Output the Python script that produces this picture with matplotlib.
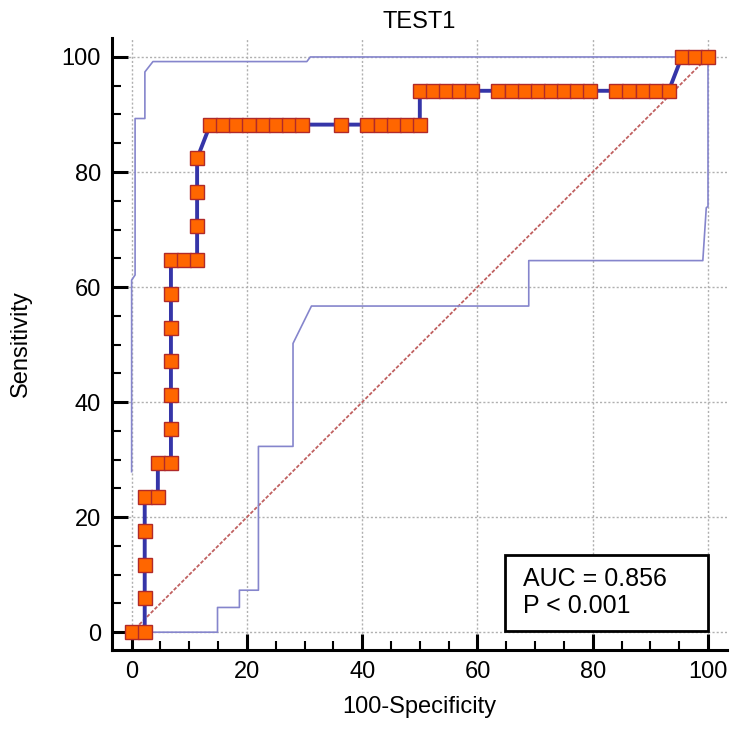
import matplotlib
matplotlib.use("Agg")
import matplotlib.pyplot as plt
from matplotlib.patches import Rectangle
from matplotlib.ticker import MultipleLocator

plt.rcParams['font.family'] = ['Liberation Sans', 'DejaVu Sans']

# ROC operating points (100-Specificity, Sensitivity)
fpr = [0.0, 2.27, 2.27, 2.27, 2.27, 2.27, 4.55, 4.55, 6.82, 6.82, 6.82, 6.82, 6.82, 6.82, 6.82,
       9.09, 11.36, 11.36, 11.36, 11.36,
       13.64, 15.91, 18.18, 20.45, 22.73, 25.0, 27.27, 29.55, 36.36,
       40.91, 43.18, 45.45, 47.73, 50.0,
       50.0, 52.27, 54.55, 56.82, 59.09,
       63.64, 65.91, 68.18, 70.45, 72.73, 75.0, 77.27, 79.55,
       84.09, 86.36, 88.64, 90.91, 93.18,
       95.45, 97.73, 100.0]
sens = [0.0, 0.0, 5.88, 11.76, 17.65, 23.53, 23.53, 29.41, 29.41, 35.29, 41.18, 47.06, 52.94, 58.82, 64.71,
        64.71, 64.71, 70.59, 76.47, 82.35,
        88.24, 88.24, 88.24, 88.24, 88.24, 88.24, 88.24, 88.24, 88.24,
        88.24, 88.24, 88.24, 88.24, 88.24,
        94.12, 94.12, 94.12, 94.12, 94.12,
        94.12, 94.12, 94.12, 94.12, 94.12, 94.12, 94.12, 94.12,
        94.12, 94.12, 94.12, 94.12, 94.12,
        100.0, 100.0, 100.0]

# 95% confidence bounds
upper_x = [0.0, 0.0, 0.6, 0.6, 2.3, 2.3, 3.7, 30.4, 31.0, 100.0]
upper_y = [27.9, 61.2, 62.1, 89.3, 89.3, 97.4, 99.2, 99.2, 100.0, 100.0]
lower_x = [0.0, 14.9, 14.9, 18.7, 18.7, 22.0, 22.0, 28.0, 28.0, 31.2, 68.9, 68.9, 99.1, 99.7, 100.0, 100.0]
lower_y = [0.0, 0.0, 4.3, 4.3, 7.3, 7.3, 32.3, 32.3, 50.2, 56.7, 56.7, 64.6, 64.6, 73.8, 74.0, 100.0]

auc_text = "AUC = 0.856\nP < 0.001"
title = "TEST1"

fig = plt.figure(figsize=(7.39, 7.39), dpi=100)
ax = fig.add_axes([0.1516, 0.1204, 0.8322, 0.8282])

ax.grid(True, which='major', color='#b0b0b0', linestyle=(0, (1.5, 1.5)), linewidth=1.0, zorder=0)
ax.plot([0, 100], [0, 100], color='#c06060', linestyle=(0, (2, 1)), linewidth=1.3, zorder=2)
ax.plot(upper_x, upper_y, color='#8585cc', linewidth=1.2, zorder=3)
ax.plot(lower_x, lower_y, color='#8585cc', linewidth=1.2, zorder=3)
ax.plot(fpr, sens, color='#3535a8', linewidth=2.8, zorder=4)
ax.plot(fpr, sens, linestyle='none', marker='s', markersize=9.5,
        markerfacecolor='#ff6600', markeredgecolor='#b02a2a', markeredgewidth=1.0, zorder=5)

ax.add_patch(Rectangle((64.7, 0.2), 35.3, 13.3, facecolor='white', edgecolor='black',
                       linewidth=2.0, zorder=6))
ax.text(67.9, 6.9, auc_text, fontsize=18, va='center', ha='left', linespacing=1.2, zorder=7)

ax.set_xlim(-3.4, 103.3)
ax.set_ylim(-3.1, 103.3)
ax.xaxis.set_major_locator(MultipleLocator(20))
ax.xaxis.set_minor_locator(MultipleLocator(5))
ax.yaxis.set_major_locator(MultipleLocator(20))
ax.yaxis.set_minor_locator(MultipleLocator(5))

for side in ['top', 'right']:
    ax.spines[side].set_visible(False)
for side in ['left', 'bottom']:
    ax.spines[side].set_linewidth(2.2)

ax.tick_params(which='major', direction='in', length=11.5, width=2.2, labelsize=17, pad=8)
ax.tick_params(which='minor', direction='in', length=6.5, width=1.5)

ax.set_xlabel("100-Specificity", fontsize=17)
ax.set_ylabel("Sensitivity", fontsize=17)
ax.xaxis.set_label_coords(0.5, -0.075)
ax.yaxis.set_label_coords(-0.13, 0.5)
ax.set_title(title, fontsize=17, pad=7)

fig.savefig("out.png", dpi=100)
